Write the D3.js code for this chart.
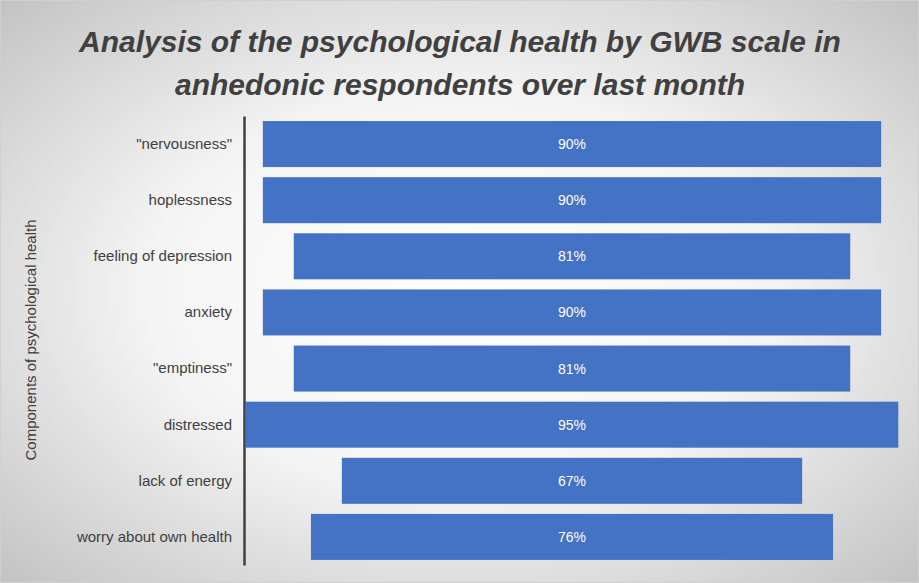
<!DOCTYPE html>
<html><head><meta charset="utf-8">
<script src="https://cdn.jsdelivr.net/npm/d3@7"></script>
<style>body{margin:0;background:#fff}</style></head>
<body><svg id="c" width="919" height="583"></svg>
<script>
const categories = ['"nervousness"','hoplessness','feeling of depression','anxiety','"emptiness"','distressed','lack of energy','worry about own health'];
const values = [90,90,81,90,81,95,67,76];
const labels = ['90%','90%','81%','90%','81%','95%','67%','76%'];

const svg = d3.select('#c');
const defs = svg.append('defs');
const g = defs.append('radialGradient').attr('id','bg').attr('cx','50%').attr('cy','50%').attr('r','75%');
g.append('stop').attr('offset','0%').attr('stop-color','#ffffff');
g.append('stop').attr('offset','45%').attr('stop-color','#f4f4f4');
g.append('stop').attr('offset','100%').attr('stop-color','#bdbdbd');
svg.append('rect').attr('x',0.5).attr('y',0.5).attr('width',918).attr('height',582).attr('fill','url(#bg)').attr('stroke','#d0d0d0');

const font = '"Liberation Sans", Arial, sans-serif';
svg.append('text').attr('x',460).attr('y',52).attr('text-anchor','middle').attr('font-family',font)
  .attr('font-size',30).attr('font-weight','bold').attr('font-style','italic').attr('fill','#404040')
  .text('Analysis of the psychological health by GWB scale in');
svg.append('text').attr('x',460).attr('y',95).attr('text-anchor','middle').attr('font-family',font)
  .attr('font-size',30).attr('font-weight','bold').attr('font-style','italic').attr('fill','#404040')
  .text('anhedonic respondents over last month');

const cx = 572, k = 6.87;
const x = d3.scaleLinear().domain([-50,50]).range([cx-50*k, cx+50*k]);
const y = d3.scaleBand().domain(categories).range([116,565]).paddingInner(0.18).paddingOuter(0.09);

svg.selectAll('rect.bar').data(values).join('rect').attr('class','bar')
  .attr('x',d=>x(-d/2)).attr('width',d=>x(d/2)-x(-d/2))
  .attr('y',(d,i)=>y(categories[i])).attr('height',y.bandwidth()).attr('fill','#4472c4');
svg.selectAll('text.v').data(labels).join('text').attr('class','v')
  .attr('x',cx).attr('y',(d,i)=>y(categories[i])+y.bandwidth()/2+5).attr('text-anchor','middle')
  .attr('font-family',font).attr('font-size',14).attr('fill','#fff').text(d=>d);

const ax = svg.append('g').attr('transform','translate(244,0)').call(d3.axisLeft(y).tickSize(0).tickPadding(12));
ax.select('.domain').attr('stroke','#404040').attr('stroke-width',2.5);
ax.selectAll('text').attr('font-family',font).attr('font-size',15).attr('fill','#404040');

svg.append('text').attr('transform','translate(36,340) rotate(-90)').attr('text-anchor','middle')
  .attr('font-family',font).attr('font-size',15).attr('fill','#404040').text('Components of psychological health');
</script></body></html>
